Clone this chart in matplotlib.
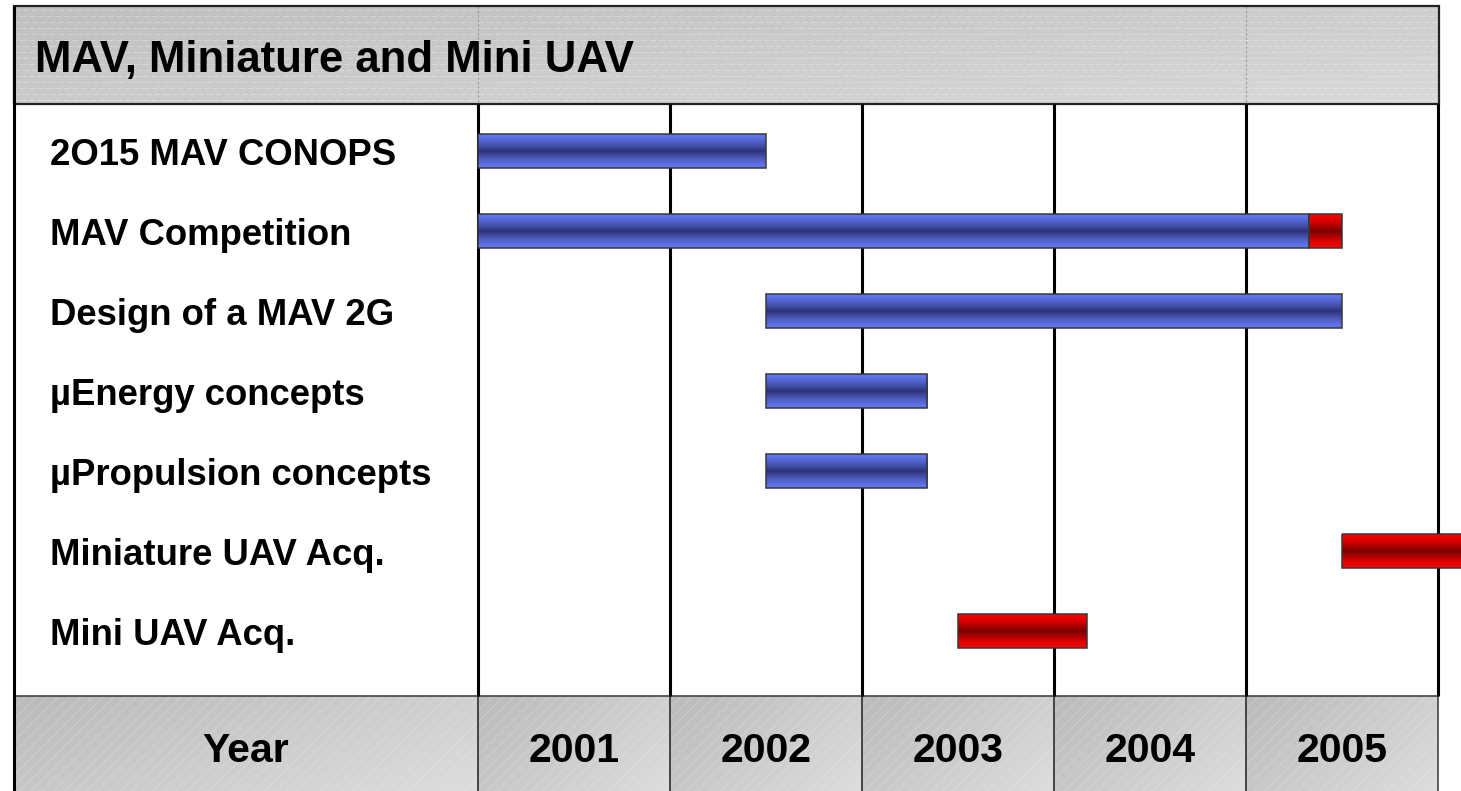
import numpy as np
import matplotlib.pyplot as plt
from matplotlib.patches import Rectangle

plt.rcParams['font.family'] = ['Liberation Sans', 'DejaVu Sans']
plt.rcParams['hatch.linewidth'] = 0.5

title = 'MAV, Miniature and Mini UAV'
tasks = ['2O15 MAV CONOPS', 'MAV Competition', 'Design of a MAV 2G',
         'µEnergy concepts', 'µPropulsion concepts', 'Miniature UAV Acq.',
         'Mini UAV Acq.']
years = [2001, 2002, 2003, 2004, 2005]

# bar segments: task row, start, end, kind
seg_row = [0, 1, 1, 2, 3, 4, 5, 6]
seg_start = [2001.0, 2001.0, 2005.33, 2002.5, 2002.5, 2002.5, 2005.5, 2003.5]
seg_end = [2002.5, 2005.33, 2005.5, 2005.5, 2003.34, 2003.34, 2006.5, 2004.17]
seg_kind = ['blue', 'blue', 'red', 'blue', 'blue', 'blue', 'red', 'red']

# pixel layout helpers (figure is 1461x791 px)
W, H = 1461, 791
x_2001, px_year = 478, 192.0
y_row0, px_row = 151, 80.0

def px2x(p):
    return years[0] + (p - x_2001) / px_year

def px2y(p):
    return (p - y_row0) / px_row

fig = plt.figure(figsize=(W / 100, H / 100), dpi=100)
ax = fig.add_axes([0, 0, 1, 1])
ax.axis('off')

hdr_top, hdr_bot = px2y(6), px2y(104)
band_top, band_bot = px2y(696), px2y(800)
left, right = px2x(14), px2x(1439)

# ---- header band
g = np.linspace(0, 1, 200)
gx, gy = np.meshgrid(g, np.linspace(0, 1, 40))
shade = 0.75 + 0.10 * (0.55 * gx + 0.45 * gy)
ax.imshow(np.dstack([shade] * 3), extent=[left, right, hdr_bot, hdr_top],
          aspect='auto', zorder=1, interpolation='bilinear')
for k, yy in enumerate(np.arange(10, 104, 6)):
    ax.hlines(px2y(yy), left, right, colors='white', alpha=0.3, lw=0.7,
              linestyles=(3 * (k % 2), (6, 3)), zorder=1.5)
for xv in [years[0], years[-1]]:
    ax.vlines(xv, hdr_top, hdr_bot, colors='#999999', lw=0.8,
              linestyles=(0, (2, 2)), zorder=1.6)
ax.add_patch(Rectangle((left, hdr_top), right - left, hdr_bot - hdr_top,
                       fill=False, edgecolor='#222222', lw=1.6, zorder=2))
ax.text(px2x(35), px2y(72), title, fontsize=31.5, fontweight='bold',
        ha='left', va='baseline', zorder=5)

# ---- bottom band cells
cells = [(left, years[0])] + [(y, y + 1) for y in years]
cell_lbl = ['Year'] + [str(y) for y in years]
for (c0, c1), lbl in zip(cells, cell_lbl):
    gx, gy = np.meshgrid(np.linspace(0, 1, 100), np.linspace(0, 1, 40))
    shade = 0.73 + 0.14 * (0.6 * gx + 0.4 * gy)
    ax.imshow(np.dstack([shade] * 3), extent=[c0, c1, band_bot, band_top],
              aspect='auto', zorder=1, interpolation='bilinear')
    ax.add_patch(Rectangle((c0, band_top), c1 - c0, band_bot - band_top,
                           fill=False, hatch='///', edgecolor='#f4f4f4',
                           lw=0, alpha=0.35, zorder=1.5))
    ax.add_patch(Rectangle((c0, band_top), c1 - c0, band_bot - band_top,
                           fill=False, edgecolor='#444444', lw=1.2, zorder=2))
    ax.text((c0 + c1) / 2, px2y(762), lbl, fontsize=29.5, fontweight='bold',
            ha='center', va='baseline', zorder=5)

# ---- grid lines and left border
grid_years = years + [years[-1] + 1]
ax.vlines(grid_years, hdr_bot, band_top, colors='black', lw=2.2, zorder=2)
ax.vlines(left, hdr_top, band_bot, colors='black', lw=2.2, zorder=2.5)

# ---- bars with vertical gradient
bar_h = 34 / px_row
t = np.linspace(-1, 1, 34)
w = (1 - np.abs(t)) ** 1.4
palette = {'blue': (np.array([98, 118, 238]), np.array([44, 50, 118])),
           'red': (np.array([252, 0, 0]), np.array([118, 0, 0]))}
for r, s, e, kind in zip(seg_row, seg_start, seg_end, seg_kind):
    edge, mid = palette[kind]
    col = (edge[None, :] * (1 - w[:, None]) + mid[None, :] * w[:, None]) / 255
    img = np.repeat(col[:, None, :], 2, axis=1)
    ax.imshow(img, extent=[s, e, r + bar_h / 2, r - bar_h / 2],
              aspect='auto', zorder=3, interpolation='bilinear')
    ax.add_patch(Rectangle((s, r - bar_h / 2), e - s, bar_h, fill=False,
                           edgecolor='#383838', lw=1.1, zorder=4))

# ---- task labels
for i, name in enumerate(tasks):
    ax.text(px2x(50), i + 14 / px_row, name, fontsize=26.3, fontweight='bold',
            ha='left', va='baseline', zorder=5)

ax.set_xlim(px2x(0), px2x(W))
ax.set_ylim(px2y(H), px2y(0))
fig.savefig('out.png', dpi=100)
